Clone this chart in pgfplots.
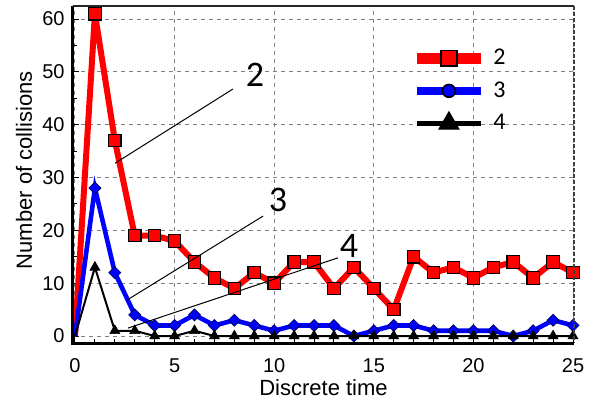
\documentclass[border=0pt]{standalone}
\usepackage{fontspec}
\setmainfont{Liberation Sans}
\newfontfamily\carlito{Carlito}
\usepackage{pgfplots}
\pgfplotsset{compat=1.18}

\pgfplotstableread{
x  r  b  k
0  0  0  0
1  61 28 13
2  37 12 1
3  19 4  1
4  19 2  0
5  18 2  0
6  14 4  1
7  11 2  0
8  9  3  0
9  12 2  0
10 10 1  0
11 14 2  0
12 14 2  0
13 9  2  0
14 13 0  0
15 9  1  0
16 5  2  0
17 15 2  0
18 12 1  0
19 13 1  0
20 11 1  0
21 13 1  0
22 14 0  0
23 11 1  0
24 14 3  0
25 12 2  0
}\datatable

\begin{document}
\begin{tikzpicture}
\begin{axis}[
  name=ax,
  scale only axis, width=250.5pt, height=168.5pt,
  xmin=-0.1, xmax=25.05, ymin=-1.32, ymax=62.46,
  xtick={0,5,...,25}, ytick={0,10,...,60},
  minor x tick num=4, minor y tick num=1,
  tick pos=left, tick align=inside,
  major tick length=3pt, minor tick length=2pt,
  tick style={black, line width=0.5pt},
  grid=major,
  major grid style={gray, line width=0.5pt, dash pattern=on 2pt off 2pt},
  axis line style={draw=none},
  /pgf/number format/assume math mode=true,
  ticklabel style={font=\fontsize{10}{12}\selectfont},
  xticklabel style={yshift=-4.2pt},
  yticklabel style={xshift=-0.7pt},
  xlabel={Discrete time}, ylabel={Number of collisions},
  label style={font=\fontsize{11}{13}\selectfont},
  xlabel style={at={(axis description cs:0.5,-0.1335)}, anchor=center},
  ylabel style={at={(axis description cs:-0.098,0.513)}, anchor=center},
  clip mode=individual,
  legend cell align=left,
  legend image code/.code={\draw[mark repeat=2,mark phase=2,#1] plot coordinates {(0pt,0pt) (16pt,0pt) (32pt,0pt)};},
  legend style={at={(axis description cs:0.6747,0.894)}, anchor=north west,
    draw=none, fill=none, inner sep=0pt, row sep=0pt, column sep=3.5pt,
    nodes={inner sep=0pt, minimum height=16.25pt},
    font=\carlito\fontsize{12}{14}\selectfont},
]
\addlegendimage{red, line width=5.5pt, mark=square*, mark size=3.9pt,
  mark options={solid, fill=red, draw=black, line width=0.8pt}}
\addlegendentry{2}
\addlegendimage{blue, line width=4pt, mark=*, mark size=3.2pt,
  mark options={solid, fill=blue, draw=black, line width=0.8pt}}
\addlegendentry{3}
\addlegendimage{black, line width=2.8pt, mark=triangle*, mark size=5.8pt,
  mark options={solid, fill=black, draw=black, line width=0.5pt}}
\addlegendentry{4}

\addplot[forget plot, red, line width=3pt, mark=square*, mark size=3.1pt, mark phase=2,
  mark options={fill=red, draw=black, line width=0.6pt}] table[x=x, y=r] {\datatable};
\addplot[forget plot, blue, line width=2.3pt, mark=square*, mark size=2.1pt, mark phase=2,
  mark options={rotate=45, fill=blue, draw=blue!40!black, line width=0.4pt}] table[x=x, y=b] {\datatable};
\addplot[forget plot, black, line width=1pt, mark=triangle*, mark size=2.9pt, mark phase=2,
  mark options={fill=black, draw=black, line width=0.3pt}] table[x=x, y=k] {\datatable};

\draw[black, line width=0.5pt] (axis cs:2.01,32.7) -- (axis cs:7.93,46.75);
\node[font=\carlito\fontsize{18}{20}\selectfont] at (axis cs:9.04,49.4) {2};
\draw[black, line width=0.5pt] (axis cs:2.61,6.8) -- (axis cs:9.44,22.7);
\node[font=\carlito\fontsize{18}{20}\selectfont] at (axis cs:10.19,25.7) {3};
\draw[black, line width=0.5pt] (axis cs:2.66,1.5) -- (axis cs:13.2,14.8);
\node[font=\carlito\fontsize{18}{20}\selectfont] at (axis cs:13.75,17.0) {4};

\draw[black!85, line width=0.6pt] (rel axis cs:0,1) -- (rel axis cs:1,1);
\draw[black!75, line width=0.6pt, dash pattern=on 2pt off 1pt] (rel axis cs:1,1) -- (rel axis cs:1,0);
\draw[black, line width=1.5pt] (rel axis cs:0,1) -- (rel axis cs:0,0) -- (rel axis cs:1,0);
\end{axis}
\pgfresetboundingbox
\path[use as bounding box] ([xshift=-36.5pt,yshift=-30pt]ax.south west) rectangle ([xshift=9.5pt,yshift=3pt]ax.north east);
\end{tikzpicture}
\end{document}
